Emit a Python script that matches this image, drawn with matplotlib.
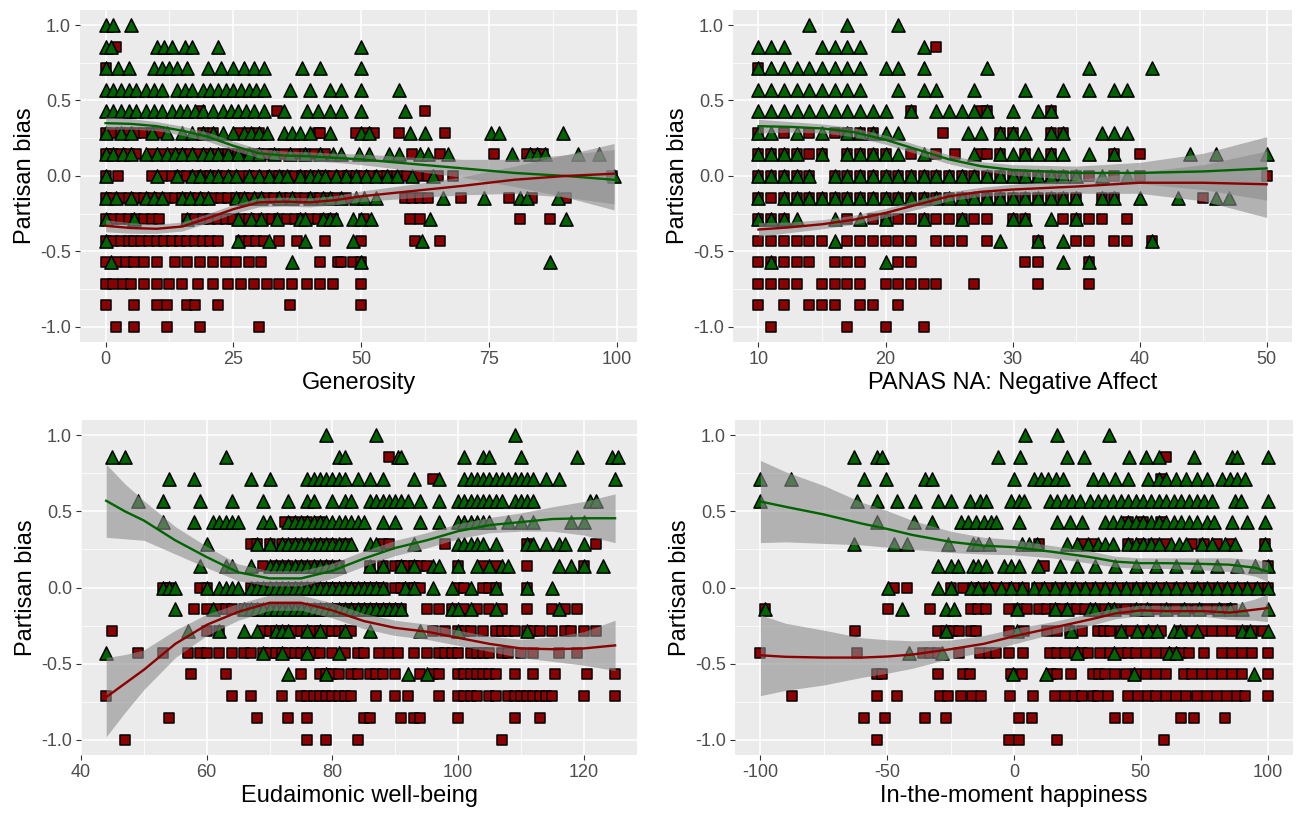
import numpy as np
import matplotlib.pyplot as plt
from matplotlib.ticker import FixedLocator, FormatStrFormatter

plt.rcParams["font.family"] = ["Liberation Sans", "DejaVu Sans"]
plt.rcParams["axes.unicode_minus"] = False

# partisan bias levels (rows), top to bottom
LEVELS = [1.0, 0.857, 0.714, 0.571, 0.429, 0.286, 0.143, 0.0,
          -0.143, -0.286, -0.429, -0.571, -0.714, -0.857, -1.0]

GREEN = "#006400"
RED = "#8B0000"

# ---- Generosity ----
gen_tri = [
    [0, 1.5, 5],
    [0, 1, 10, 11.5, 13, 15.5, 17, 22, 50],
    [0, 2.5, 4.5, 9.5, 11, 12.5, 14, 16, 20, 22.5, 25, 27, 29, 31, 38.5, 42, 50],
    [0, 1.5, 3, 4.5, 6, 8, 9.5, 11, 14, 15.5, 17, 19, 20.5, 22, 23.5, 25, 26.5, 28,
     29.5, 31, 36, 40, 44, 46, 50, 57.5],
    [0, 1.5, 3, 4.5, 6, 8, 9.5, 11, 13, 14.5, 16, 17.5, 19, 21, 23, 24.5, 26, 27.5,
     29, 31, 35, 39.5, 41.5, 44, 46, 50, 58.5],
    [0, 3, 5, 9, 12, 15, 17, 19, 21, 23, 25, 27, 28.5, 30, 31.5, 35, 36.5, 38, 40, 44,
     50, 51.5, 59.5, 62.5, 75.5, 77, 89.5],
    [0, 1.5, 3.5, 5, 8, 10, 12, 13.5, 15, 17, 19, 20.5, 22, 24, 26, 28, 30, 33, 36, 39,
     42, 44.5, 46, 49.5, 51.5, 55.5, 57.5, 61.5, 63, 67, 79.5, 83, 84.5, 86, 92.5, 96.5],
    [0, 10, 14, 17, 18.5, 20.5, 22, 24, 25.5, 28, 30, 32, 34, 35.5, 38, 40, 41.5, 43,
     45, 47, 49, 51, 53, 55, 57, 60, 64, 99.5],
    [0, 2, 5, 8, 9.5, 11, 15, 16.5, 18.5, 20, 25.5, 27, 29, 30.5, 34, 36.5, 40, 42.5,
     44, 46, 49, 50.5, 53, 66, 74, 81, 82.5, 88.5],
    [0, 5.5, 16, 26, 28.5, 30.5, 33.5, 38, 39, 42.5, 44, 45, 48.5, 50, 52, 63.5, 90],
    [0, 26, 32, 39, 48.5, 62],
    [1, 36.5, 50, 87],
    [], [], [],
]
gen_sq = [
    [],
    [2],
    [0],
    [],
    [18.5, 33.5, 62.5],
    [0, 1.5, 3, 4.5, 6, 7.5, 9, 10.5, 19, 21, 26, 28, 30, 41.5, 42, 49, 51, 52.5, 57.5, 66.5],
    [0, 1.5, 3, 4.5, 6, 9, 11, 13, 15, 16.5, 18, 20, 22, 24, 26, 28, 30, 31.5, 33, 35,
     37, 39, 41, 43, 60, 65.5, 76, 82.5, 84, 85.5],
    [0, 2.5, 9, 11, 13, 14.5, 16, 17.5, 19, 20.5, 22, 23.5, 25, 26.5, 28, 29.5, 31, 32.5,
     34, 35.5, 37, 38.5, 40, 41.5, 43, 44.5, 46, 47.5, 49, 50.5, 52, 53.5, 55, 57, 59,
     61, 63, 65, 68, 99],
    [0, 1.5, 3, 4.5, 6, 7.5, 9, 10.5, 12, 13.5, 15, 16.5, 18, 19.5, 21, 22.5, 24, 25.5,
     27, 28.5, 30, 31.5, 33, 34.5, 36, 37.5, 39, 40.5, 42, 43.5, 45, 47, 58.5, 60, 61.5,
     63, 69.5, 79, 83.5, 90],
    [0, 1.5, 3, 4.5, 6, 7.5, 9, 10.5, 16, 17.5, 19, 20.5, 22, 23.5, 25, 26.5, 28, 29.5,
     31, 32.5, 34, 35.5, 37, 38.5, 40, 41.5, 43, 44.5, 50.5, 59.5, 61.5, 81, 87],
    [0, 1.5, 3, 4.5, 5.5, 7, 8.5, 10, 11.5, 13, 14.5, 16, 17.5, 19, 20.5, 22, 26.5, 28,
     29.5, 31, 34, 37.5, 43, 50, 60.5, 65.5],
    [0, 2, 4, 5.5, 7.5, 10, 13.5, 16, 18.5, 21, 23.5, 25.5, 28, 30.5, 42, 45.5, 46,
     48.5, 50],
    [0, 1.5, 3.5, 5, 7.5, 10, 12.5, 15, 18, 21, 24, 26.5, 29, 31.5, 34, 36.5, 39.5, 42,
     44.5, 50],
    [0, 5.5, 10, 12, 16, 17.5, 22, 36, 50],
    [2, 5.5, 12, 18.5, 30],
]
gen_fit_x = [0, 5, 10, 15, 20, 25, 30, 35, 40, 45, 50, 60, 70, 80, 90, 99.5]
gen_green_fit = [0.35, 0.345, 0.33, 0.30, 0.26, 0.20, 0.15, 0.135, 0.13, 0.12, 0.11,
                 0.08, 0.05, 0.02, 0.0, -0.025]
gen_green_se = [0.04, 0.035, 0.03, 0.03, 0.03, 0.03, 0.03, 0.03, 0.03, 0.03, 0.035,
                0.045, 0.06, 0.09, 0.14, 0.2]
gen_red_fit = [-0.33, -0.345, -0.35, -0.335, -0.28, -0.22, -0.175, -0.17, -0.175,
               -0.16, -0.135, -0.10, -0.065, -0.025, 0.0, 0.015]
gen_red_se = [0.04, 0.035, 0.03, 0.03, 0.03, 0.03, 0.03, 0.03, 0.03, 0.03, 0.035,
              0.045, 0.06, 0.09, 0.14, 0.2]

# ---- PANAS NA ----
pan_tri = [
    [14, 17, 21],
    [10, 11, 12, 15, 16, 17, 18, 23],
    [10, 11, 12, 13, 14, 15, 16, 17, 18, 20, 21, 23, 28, 36, 41],
    [10, 11, 12, 13, 14, 15, 16, 17, 18, 21, 23, 24, 27, 31, 34, 36, 38, 39],
    [10, 11, 12, 13, 14, 15, 16, 17, 18, 19, 20, 22, 24, 25, 26, 27, 28, 30, 32, 33],
    [10, 11, 13, 15, 17, 18, 19, 20, 21, 26.5, 27.5, 29, 30, 31, 33, 34, 37, 38, 39],
    [10, 11, 12, 13, 15, 17, 18, 19, 20, 21, 23, 27, 29, 30, 31, 32, 33, 34, 36, 38,
     44, 46, 50],
    [10, 11, 12, 13, 14, 16, 17, 18, 19, 20, 21, 22, 23, 24, 25, 26, 27, 28, 29, 30,
     31, 32, 33, 34, 35, 37, 39],
    [10, 12, 13, 14, 15, 16, 17, 18, 19, 20, 21, 22, 23, 24, 25, 26, 27, 28, 29, 30,
     31, 32, 33, 34, 35, 37, 38, 40, 43, 46, 47],
    [10, 11, 12, 13, 16, 18, 20, 23, 26, 30, 31, 33, 35],
    [16, 29, 32, 34, 41],
    [11, 20, 34, 36],
    [], [], [],
]
pan_sq = [
    [],
    [24],
    [10],
    [],
    [22, 27.5, 28, 33],
    [10, 12, 14, 16, 17, 18, 19, 24.5, 29, 30, 33, 34],
    [10, 11, 12, 13, 14, 15, 17, 18, 19, 20, 22, 24, 25.5, 27.5, 28, 29, 31, 33, 38, 40],
    [10, 11, 12, 13, 14, 16, 17, 18, 19, 20, 21, 22, 23, 24, 25, 26, 27, 28, 29, 30,
     31, 32, 33, 34, 35, 36, 38, 40, 50],
    [10, 11, 12, 13, 14, 15, 16, 17, 18, 19, 20, 21, 22, 23, 24, 25, 26, 27, 28, 29,
     30, 31, 32, 33, 34, 35, 37, 38, 45],
    [10, 11, 12, 17, 19, 20, 21, 22, 23, 24, 25, 26, 27, 28, 30, 31, 34, 35, 36, 37, 39],
    [10, 11, 12, 13, 14, 15, 17, 18, 19, 20, 21, 22, 24, 25, 26, 28, 32, 35, 36, 38,
     39, 41],
    [10, 11, 12, 13, 14, 16, 17, 18, 21, 22, 31, 32, 36],
    [10, 11, 12, 13, 15, 16, 17, 18, 20, 21, 22, 23, 24, 27, 32, 36],
    [10, 12, 14, 15, 16, 18, 19, 21],
    [11, 17, 20, 23],
]
pan_fit_x = [10, 12.5, 15, 17.5, 20, 22.5, 25, 27.5, 30, 35, 40, 45, 50]
pan_green_fit = [0.33, 0.325, 0.315, 0.29, 0.24, 0.175, 0.11, 0.065, 0.04, 0.02,
                 0.02, 0.03, 0.05]
pan_green_se = [0.045, 0.035, 0.03, 0.03, 0.03, 0.03, 0.03, 0.03, 0.035, 0.045,
                0.07, 0.12, 0.21]
pan_red_fit = [-0.355, -0.34, -0.32, -0.29, -0.245, -0.19, -0.135, -0.105, -0.09,
               -0.07, -0.045, -0.045, -0.055]
pan_red_se = [0.045, 0.035, 0.03, 0.03, 0.03, 0.03, 0.03, 0.03, 0.035, 0.045,
              0.07, 0.12, 0.22]

# ---- Eudaimonic well-being ----
eud_tri = [
    [79, 87, 109],
    [45, 47, 63, 81, 82, 90.5, 91, 101, 104, 105, 110, 119, 124.5, 125.5],
    [54, 58, 67, 70, 76, 77, 78, 79, 80, 81, 82, 84, 86, 88, 93, 97, 101, 102, 103,
     104, 105, 106, 107, 108, 109, 110, 111, 112, 114, 116, 125],
    [49, 53, 59, 64, 69, 73, 76, 77, 80, 82, 83, 86, 87, 88, 89, 90, 91, 92, 94, 97,
     100, 101, 102, 103, 104, 105, 106, 107, 109, 110, 111, 112, 121, 122],
    [53, 58, 61, 62, 63, 64, 65, 69, 70, 73, 74, 75, 76, 77, 78, 79, 80, 81, 82, 83,
     84, 85, 88, 90, 94, 97, 100, 101, 102, 103, 104, 105, 108, 110, 112, 118, 120],
    [60, 68, 70, 72, 73, 74, 75, 76, 77, 78, 79, 80, 81, 82, 83, 86, 87, 93, 100, 101,
     102, 103, 104, 106, 111, 112, 114, 116, 117, 120],
    [59, 63, 64, 67, 70, 71, 72, 73, 74, 75, 76, 77, 78, 79, 80, 81, 86, 88, 91, 93,
     96, 97, 100, 103, 105, 107, 108, 116, 118, 120, 123],
    [53, 54, 55, 60, 62, 63, 64, 65, 67, 68, 69, 70, 71, 72, 73, 74, 75, 76, 77, 78,
     79, 80, 81, 82, 83, 84, 85, 86, 87, 88, 91.5, 93, 96, 99, 102, 106, 111, 115],
    [55, 61, 66, 67, 68, 69, 70, 71, 72, 73, 74, 75, 76, 77, 78, 79, 80, 81, 82, 83,
     84, 85, 86, 87, 88, 89, 90, 91, 99, 100, 102, 106, 116],
    [57, 62, 66, 68, 71, 72, 73, 76, 78, 82, 86, 94, 100, 111],
    [44, 69, 72, 76, 81],
    [73, 79, 92, 95],
    [], [], [],
]
eud_sq = [
    [],
    [89],
    [96],
    [],
    [72.5, 74, 76, 78],
    [67, 68, 70, 72, 74, 76, 78, 80, 82, 88, 89, 98, 111, 122],
    [69, 71, 73, 75, 77, 79, 81, 86, 88, 90, 91, 92, 93, 94, 95, 100, 104, 106, 111, 120],
    [53, 54, 59, 60, 67, 68, 69, 70, 71, 72, 73, 74, 75, 76, 77, 78, 79, 80, 81, 82,
     83, 84, 85, 86, 87, 88, 90, 91, 92, 93, 94, 100, 101, 104, 105, 106, 111],
    [58, 60, 62, 63, 64, 66, 67, 68, 69, 70, 71, 72, 73, 74, 75, 76, 77, 78, 79, 80,
     81, 82, 83, 84, 85, 86, 87, 88, 89, 90, 91, 95, 97, 99, 101, 103, 105, 107, 111,
     115, 117, 119],
    [45, 60, 62, 69, 70, 71, 72, 73, 74, 75, 76, 77, 78, 79, 80, 81, 82, 83, 96, 98,
     100, 101, 102, 104, 106, 107, 108, 109, 111, 112, 113, 115, 117, 118, 120, 122],
    [49, 53, 57, 59, 60, 62, 64, 66, 67, 69, 70, 71, 72, 73, 74, 75, 76, 77, 78, 80,
     82, 84, 85, 87.5, 89, 90.5, 93, 95, 97, 98, 99, 100, 102, 103, 104, 105, 107,
     108, 110, 112, 116, 119],
    [57.5, 63, 75, 78, 79, 80, 81, 83, 84, 86, 87, 88, 90, 94, 96, 97, 100, 101, 102,
     103, 104, 105, 106, 109, 112, 115.5, 120.5, 125],
    [44, 64, 67, 72, 75, 76, 77, 78, 79, 80, 81, 82, 83, 87, 90, 92, 97, 100, 101, 102,
     103, 105, 106, 108, 109, 110, 111, 112, 113, 114, 115, 120, 125],
    [54, 68, 73, 76, 85, 86, 91, 93, 94, 100, 109, 113],
    [47, 76, 79, 84, 107],
]
eud_fit_x = [44, 47, 50, 55, 60, 65, 70, 75, 80, 85, 90, 95, 100, 105, 110, 115, 120, 125]
eud_green_fit = [0.57, 0.50, 0.44, 0.31, 0.20, 0.10, 0.06, 0.06, 0.11, 0.19, 0.26,
                 0.31, 0.37, 0.41, 0.43, 0.45, 0.455, 0.455]
eud_green_se = [0.24, 0.18, 0.13, 0.09, 0.07, 0.055, 0.05, 0.05, 0.05, 0.05, 0.05,
                0.05, 0.05, 0.05, 0.06, 0.08, 0.11, 0.16]
eud_red_fit = [-0.72, -0.63, -0.54, -0.37, -0.245, -0.16, -0.10, -0.10, -0.15, -0.22,
               -0.265, -0.29, -0.33, -0.37, -0.40, -0.405, -0.40, -0.38]
eud_red_se = [0.26, 0.19, 0.13, 0.09, 0.07, 0.055, 0.05, 0.05, 0.05, 0.05, 0.05,
              0.05, 0.05, 0.05, 0.06, 0.08, 0.11, 0.165]

# ---- In-the-moment happiness ----
hap_tri = [
    [4.5, 17, 37.5],
    [-63, -54, -52, -6.5, 2.5, 21, 27.5, 45.5, 52, 57, 71, 86, 88, 100],
    [-100, -88, -59, -50.5, -35, -32.5, 0, 8, 10.5, 13.5, 16.5, 19.5, 31, 35, 40, 45,
     53, 57, 60, 64, 68, 72, 76, 82, 85, 88, 91],
    [-100, -62, -54, -46, -39, -30, -25, -17.5, -13.5, -11, -1, 2, 4, 14, 17, 20, 23,
     26, 30, 33, 36, 39, 42, 45, 48, 51, 54, 57, 60, 63, 66, 69, 72, 75, 78, 87, 89.5, 100],
    [-54, -39.5, -32.5, -21, -18, -15, -12, -9, -7, 2, 17, 22, 27, 36, 39, 42, 45, 48,
     51, 54, 57, 60, 63, 66, 69, 72, 76, 79, 86, 92, 99],
    [-63, -47.5, -42, -26, -16, -14, -10, 3, 6, 9, 21, 25, 29, 33, 36, 39, 45, 48, 51,
     54, 57, 62, 65, 68, 74, 78, 83, 87, 99],
    [-30, -25, -22, -16, -14, -11, -4, -1, 2, 9.5, 18, 25, 32, 40, 48, 56, 64, 72, 80,
     88, 95, 100],
    [-49.5, -30, -25, -17, -14, -10, -5, -1, 3, 8, 12, 16, 20, 24, 28, 32, 36, 40, 44,
     48, 52, 56, 60, 64, 68, 72, 76, 80, 84, 88, 92, 96, 100],
    [-98, -44, -27, -23.5, 1, 16, 21, 30, 32, 37, 39.5, 48, 52.5, 60, 67, 73, 81, 85,
     90, 100],
    [-27, 1, 22.5, 42, 48.5, 53, 56.5, 63, 65.5, 72, 90, 93, 100],
    [-41.5, -28.5, 25, 39.5, 61, 64],
    [-0.5, 12.5, 47.5, 94.5],
    [], [], [],
]
hap_sq = [
    [],
    [60],
    [58],
    [],
    [45, 51, 58],
    [10, 27, 31, 45, 50, 55, 60, 70, 75, 80, 85, 99],
    [12, 100],
    [-47.5, -42, -25, -20, -16, -13, -10, -7, -3, 0, 4, 9, 13, 17, 21, 25, 29, 33, 37,
     41, 45, 49, 53, 57, 61, 65, 69, 73, 77, 81, 85, 89, 93, 97, 100],
    [-98, -49.5, -33, -17, -14, -11, -2, 2, 5, 10, 13, 16, 19, 22, 25, 28, 32, 36, 40,
     44, 48, 52, 56, 60, 64, 68, 72, 76, 80, 84, 86],
    [-62.5, -30, -27, -24, -21.5, -17, -15, -2, 4, 13, 17, 22, 27, 33, 35.5, 38, 42,
     46, 50, 54, 58, 66, 70, 74, 78, 82, 86, 90, 94, 98],
    [-100, -62, -36, -33, -30, -21.5, -13.5, -10, -7, -2, 3.5, 14, 17, 20, 24, 27, 29,
     34, 38, 42, 45, 48, 52, 56, 60, 63, 66, 69, 75, 82, 86, 90, 94, 100],
    [-54, -52, -30, -20, -17.5, -1, 3, 14.5, 17, 22.5, 31, 33.5, 36, 40, 44, 48, 52,
     56, 60, 67, 70, 74, 78, 82, 86, 90, 100],
    [-87.5, -54, -46, -29, -26, -21, -16.5, -13, -1.5, 7.5, 16, 20, 24, 27, 31, 33, 37,
     45, 49, 53, 56, 60, 64, 68, 72, 76, 80, 84, 88, 91, 100],
    [-59, -51, -35, -27, 2, 7, 40, 45, 66, 71, 83],
    [-54, -2, 2, 17, 59],
]
hap_fit_x = [-100, -90, -75, -60, -50, -40, -25, -12, 0, 15, 30, 40, 50, 60, 75, 85, 95, 100]
hap_green_fit = [0.565, 0.53, 0.48, 0.42, 0.385, 0.345, 0.30, 0.275, 0.265, 0.235,
                 0.20, 0.17, 0.16, 0.16, 0.155, 0.15, 0.13, 0.105]
hap_green_se = [0.27, 0.23, 0.19, 0.14, 0.12, 0.095, 0.07, 0.055, 0.05, 0.04, 0.04,
                0.035, 0.035, 0.035, 0.04, 0.045, 0.055, 0.065]
hap_red_fit = [-0.445, -0.455, -0.46, -0.46, -0.453, -0.44, -0.405, -0.37, -0.32,
               -0.265, -0.21, -0.17, -0.15, -0.155, -0.155, -0.165, -0.145, -0.135]
hap_red_se = [0.265, 0.22, 0.18, 0.13, 0.11, 0.09, 0.06, 0.055, 0.05, 0.04, 0.04,
              0.035, 0.035, 0.035, 0.035, 0.045, 0.07, 0.09]


def expand(rows):
    xs, ys = [], []
    for level, row in zip(LEVELS, rows):
        xs.extend(row)
        ys.extend([level] * len(row))
    return np.array(xs, dtype=float), np.array(ys, dtype=float)


def draw_panel(ax, tri_rows, sq_rows, fit_x, g_fit, g_se, r_fit, r_se,
               xlim, xmajor, xminor, xlabel):
    ax.set_facecolor("#EBEBEB")
    ax.set_axisbelow(True)
    for s in ax.spines.values():
        s.set_visible(False)

    sx, sy = expand(sq_rows)
    tx, ty = expand(tri_rows)
    ax.scatter(sx, sy, marker="s", s=58, c=RED, edgecolors="black",
               linewidths=1.1, zorder=2)
    ax.scatter(tx, ty, marker="^", s=90, c=GREEN, edgecolors="black",
               linewidths=1.1, zorder=3)

    fx = np.array(fit_x)
    for fit, se, col in ((g_fit, g_se, GREEN), (r_fit, r_se, RED)):
        fit = np.array(fit)
        se = np.array(se)
        ax.fill_between(fx, fit - se, fit + se, color="#8C8C8C", alpha=0.6,
                        linewidth=0, zorder=4)
        ax.plot(fx, fit, color=col, linewidth=1.7, zorder=5)

    ax.set_xlim(*xlim)
    ax.set_ylim(-1.1, 1.1)
    ax.xaxis.set_major_locator(FixedLocator(xmajor))
    ax.xaxis.set_minor_locator(FixedLocator(xminor))
    ax.yaxis.set_major_locator(FixedLocator([-1.0, -0.5, 0.0, 0.5, 1.0]))
    ax.yaxis.set_minor_locator(FixedLocator([-0.75, -0.25, 0.25, 0.75]))
    ax.yaxis.set_major_formatter(FormatStrFormatter("%.1f"))
    ax.grid(which="major", color="white", linewidth=1.1)
    ax.grid(which="minor", color="white", linewidth=0.55)
    ax.tick_params(which="major", length=3.5, width=0.8, color="#333333",
                   labelsize=13, labelcolor="#4D4D4D", pad=3)
    ax.tick_params(which="minor", length=0)
    ax.set_xlabel(xlabel, fontsize=17, color="black", labelpad=3)
    ax.set_ylabel("Partisan bias", fontsize=17, color="black", labelpad=3)


def main():
    fig = plt.figure(figsize=(12.97, 8.15), dpi=100)
    ax1 = fig.add_axes([0.0617, 0.5804, 0.4295, 0.4074])
    ax2 = fig.add_axes([0.5652, 0.5804, 0.4310, 0.4074])
    ax3 = fig.add_axes([0.0625, 0.0736, 0.4287, 0.4110])
    ax4 = fig.add_axes([0.5667, 0.0736, 0.4302, 0.4110])

    draw_panel(ax1, gen_tri, gen_sq, gen_fit_x, gen_green_fit, gen_green_se,
               gen_red_fit, gen_red_se, (-5, 104), [0, 25, 50, 75, 100],
               [12.5, 37.5, 62.5, 87.5], "Generosity")
    draw_panel(ax2, pan_tri, pan_sq, pan_fit_x, pan_green_fit, pan_green_se,
               pan_red_fit, pan_red_se, (8, 52), [10, 20, 30, 40, 50],
               [15, 25, 35, 45], "PANAS NA: Negative Affect")
    draw_panel(ax3, eud_tri, eud_sq, eud_fit_x, eud_green_fit, eud_green_se,
               eud_red_fit, eud_red_se, (40, 128.5), [40, 60, 80, 100, 120],
               [50, 70, 90, 110], "Eudaimonic well-being")
    draw_panel(ax4, hap_tri, hap_sq, hap_fit_x, hap_green_fit, hap_green_se,
               hap_red_fit, hap_red_se, (-110, 110), [-100, -50, 0, 50, 100],
               [-75, -25, 25, 75], "In-the-moment happiness")

    fig.savefig("out.png", dpi=100, facecolor="white")
    plt.close(fig)


if __name__ == "__main__":
    main()
